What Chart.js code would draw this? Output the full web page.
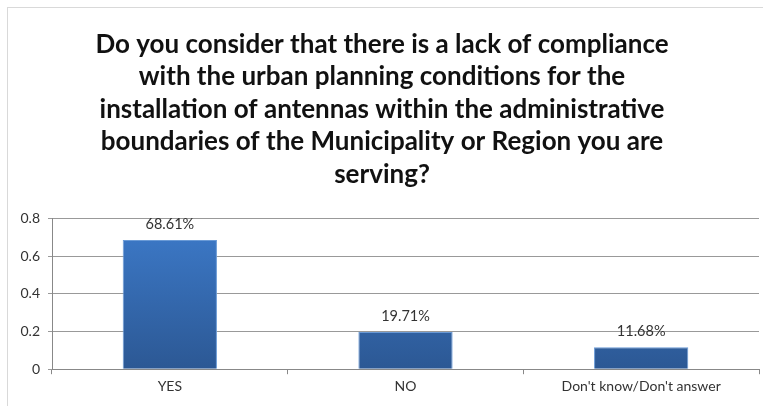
<!DOCTYPE html>
<html>
<head>
<meta charset="utf-8">
<script src="https://cdn.jsdelivr.net/npm/chart.js@4.4.0/dist/chart.umd.min.js"></script>
<style>
  html, body { margin: 0; padding: 0; background: #fff; }
  #wrap { position: relative; width: 763px; height: 406px; overflow: hidden; }
  #frame { position: absolute; left: 7px; top: 7px; width: 800px; height: 450px; border: 1px solid #d9d9d9; }
  canvas { position: absolute; left: 0; top: 0; }
</style>
</head>
<body>
<div id="wrap">
  <div id="frame"></div>
  <canvas id="chart" width="763" height="406"></canvas>
</div>
<script>
// survey answers
const categories = ["YES", "NO", "Don't know/Don't answer"];
const shares = [0.6861, 0.1971, 0.1168];
const shareLabels = ["68.61%", "19.71%", "11.68%"];
const titleLines = [
  "Do you consider that there is a lack of compliance",
  "with the urban planning conditions for the",
  "installation of antennas within the administrative",
  "boundaries of the Municipality or Region you are",
  "serving?"
];

function barFill(context) {
  const area = context.chart.chartArea;
  if (!area) return '#3470b8';
  const g = context.chart.ctx.createLinearGradient(0, area.top, 0, area.bottom);
  g.addColorStop(0, '#3d7bcb');
  g.addColorStop(1, '#2c5894');
  return g;
}

// writes the percentage above each bar
const valueLabels = {
  id: 'valueLabels',
  afterDatasetsDraw(chart) {
    const ctx = chart.ctx;
    const meta = chart.getDatasetMeta(0);
    ctx.save();
    ctx.font = '14.5px Lato, sans-serif';
    ctx.fillStyle = '#333';
    ctx.textAlign = 'center';
    ctx.textBaseline = 'middle';
    meta.data.forEach((bar, i) => {
      ctx.fillText(shareLabels[i], bar.x, bar.y - 16);
    });
    ctx.restore();
  }
};

let ctx = document.getElementById("chart").getContext("2d");
new Chart(ctx, {
  type: 'bar',
  data: {
    labels: categories,
    datasets: [{
      data: shares,
      backgroundColor: barFill,
      borderColor: '#6a9ad6',
      borderWidth: 1,
      categoryPercentage: 1,
      barPercentage: 0.4
    }]
  },
  options: {
    responsive: false,
    animation: false,
    layout: { padding: { left: 5, right: 4, top: 0, bottom: 7 } },
    plugins: {
      legend: { display: false },
      tooltip: { enabled: false },
      title: {
        display: true,
        text: titleLines,
        color: '#111',
        font: { family: 'Lato', size: 26, weight: 'bold', lineHeight: 1.25 },
        padding: { top: 28, bottom: 28 }
      }
    },
    scales: {
      x: {
        grid: { drawOnChartArea: false, color: '#888', tickLength: 5, offset: true },
        border: { color: '#888' },
        ticks: { color: '#333', font: { family: 'Lato', size: 14 }, padding: 4 }
      },
      y: {
        min: 0, max: 0.8,
        afterFit(scale) { scale.width = 47; },
        ticks: { stepSize: 0.2, color: '#333', font: { family: 'Lato', size: 14 }, padding: 8 },
        grid: { color: '#999', tickLength: 4 },
        border: { color: '#888' }
      }
    }
  },
  plugins: [valueLabels]
});
</script>
</body>
</html>
